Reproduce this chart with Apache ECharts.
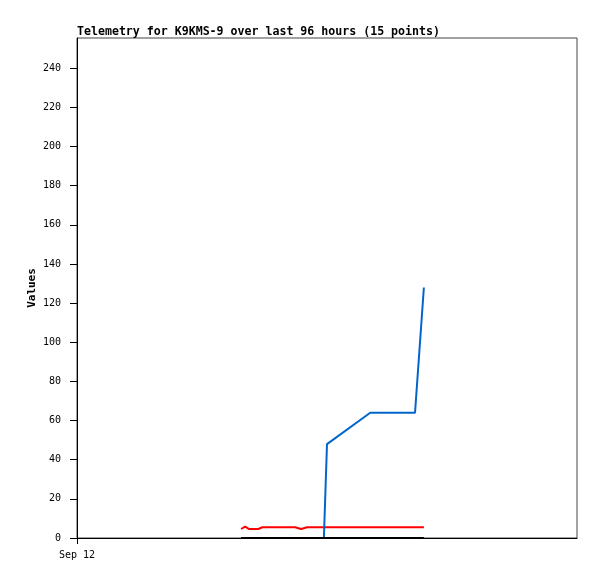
<!DOCTYPE html>
<html>
<head>
<meta charset="utf-8">
<script src="https://cdn.jsdelivr.net/npm/echarts@6/dist/echarts.min.js"></script>
<style>
  html, body { margin: 0; padding: 0; background: #fff; }
  #chart { width: 597px; height: 579px; }
</style>
</head>
<body>
<div id="chart"></div>
<script>
// hours since the start of the 96 hour window
const hours = [31.5, 32.3, 33.0, 34.8, 35.6, 41.9, 43.0, 44.2, 46.0, 47.4, 48.0, 56.3, 60.5, 64.9, 66.6];
const redValues = [4.6, 5.8, 4.6, 4.6, 5.5, 5.5, 4.6, 5.5, 5.5, 5.5, 5.5, 5.5, 5.5, 5.5, 5.5];
const blueValues = [0, 0, 0, 0, 0, 0, 0, 0, 0, 0, 48, 64, 64, 64, 128];
const blackValues = [0, 0, 0, 0, 0, 0, 0, 0, 0, 0, 0, 0, 0, 0, 0];
const xLabel = 'Sep 12';

const pairs = vals => hours.map((h, i) => [h, vals[i]]);

const mono = 'DejaVu Sans Mono, monospace';
const chart = echarts.init(document.getElementById('chart'));

const option = {
  animation: false,
  title: {
    text: 'Telemetry for K9KMS-9 over last 96 hours (15 points)',
    left: 77,
    top: 26,
    padding: 0,
    textStyle: { fontFamily: mono, fontSize: 11.6, fontWeight: 'bold', color: '#000' }
  },
  grid: {
    left: 77, top: 38, width: 500, height: 500,
    show: true, borderColor: '#444', borderWidth: 1
  },
  xAxis: {
    type: 'value',
    min: 0, max: 96, interval: 100,
    axisLine: { lineStyle: { color: '#000', width: 1 } },
    axisTick: { show: true, length: 6, lineStyle: { color: '#000' } },
    splitLine: { show: false },
    axisLabel: {
      showMaxLabel: false,
      fontFamily: mono, fontSize: 10, color: '#000', margin: 12,
      formatter: v => v === 0 ? xLabel : ''
    }
  },
  yAxis: {
    type: 'value',
    min: 0, max: 255.5, interval: 20,
    name: 'Values',
    nameLocation: 'middle',
    nameGap: 39,
    nameMoveOverlap: false,
    nameTextStyle: { fontFamily: mono, fontSize: 11, fontWeight: 'bold', color: '#000' },
    axisLine: { show: true, lineStyle: { color: '#000', width: 1 } },
    axisTick: { show: true, length: 7, inside: false, lineStyle: { color: '#000' } },
    splitLine: { show: false },
    axisLabel: {
      showMaxLabel: false,
      fontFamily: mono, fontSize: 10, color: '#000', margin: 16
    }
  },
  series: [
    {
      name: 'red', type: 'line', data: pairs(redValues),
      showSymbol: false, lineStyle: { color: '#ff0000', width: 2 }, z: 2
    },
    {
      name: 'blue', type: 'line', data: pairs(blueValues),
      showSymbol: false, lineStyle: { color: '#0066cc', width: 2 }, z: 3
    },
    {
      name: 'black', type: 'line', data: pairs(blackValues),
      showSymbol: false, lineStyle: { color: '#000', width: 2 }, z: 4
    }
  ]
};
chart.setOption(option);
</script>
</body>
</html>
